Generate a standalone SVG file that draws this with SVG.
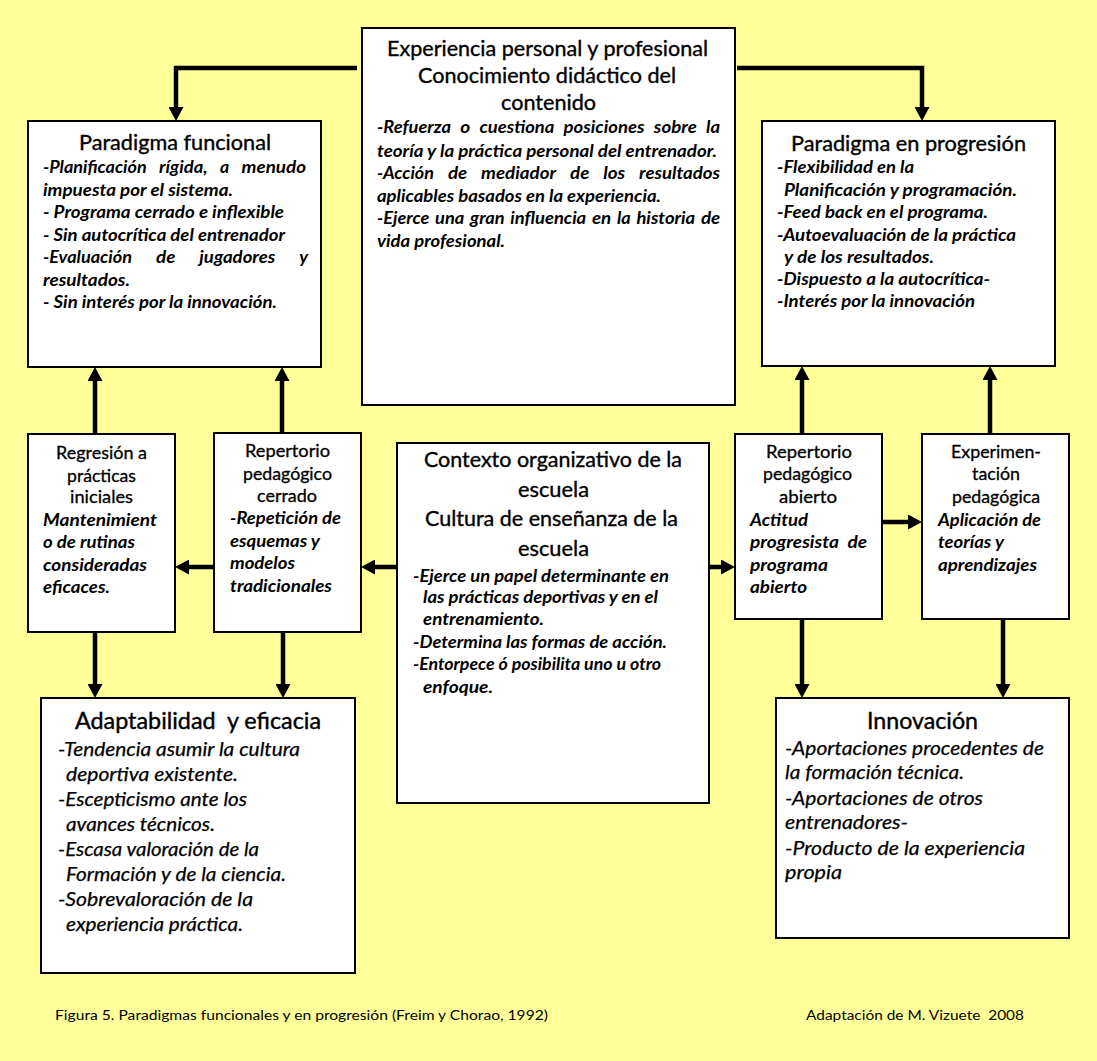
<svg xmlns="http://www.w3.org/2000/svg" width="1097" height="1061" viewBox="0 0 1097 1061">
<style>
.bg{fill:#FFFF99}
.box{fill:#fff;stroke:#000;stroke-width:2}
text{font-family:Lato,"Open Sans","Liberation Sans",sans-serif;fill:#000}
.h{font-size:20.5px;stroke:#000;stroke-width:0.35}
.hs{font-size:17.3px;stroke:#000;stroke-width:0.3}
.hl{font-size:22.5px;stroke:#000;stroke-width:0.4}
.b{font-size:16.5px;font-weight:bold;font-style:italic}
.bl{font-size:19px;font-style:italic;stroke:#000;stroke-width:0.25}
.f{font-size:13.5px}
.cn{fill:none;stroke:#000;stroke-width:4.5;stroke-linejoin:miter}
</style>
<defs>
<marker id="ah" markerUnits="userSpaceOnUse" markerWidth="14" markerHeight="15" viewBox="0 0 14 15" refX="6" refY="7.5" orient="auto" preserveAspectRatio="none">
<path d="M0,0 L14,7.5 L0,15 Z" fill="#000"/>
</marker>
</defs>
<rect class="bg" x="0" y="0" width="1097" height="1061"/>

<g id="connectors">
<path class="cn" d="M357,68 H176 V113" marker-end="url(#ah)"/>
<path class="cn" d="M737,68 H922 V113" marker-end="url(#ah)"/>
<path class="cn" d="M95,433 V375" marker-end="url(#ah)"/>
<path class="cn" d="M282,433 V375" marker-end="url(#ah)"/>
<path class="cn" d="M802,433 V374" marker-end="url(#ah)"/>
<path class="cn" d="M990,433 V374" marker-end="url(#ah)"/>
<path class="cn" d="M214,567 H183" marker-end="url(#ah)"/>
<path class="cn" d="M397,567 H369" marker-end="url(#ah)"/>
<path class="cn" d="M709,567 H727" marker-end="url(#ah)"/>
<path class="cn" d="M882,522 H914" marker-end="url(#ah)"/>
<path class="cn" d="M95,632 V690" marker-end="url(#ah)"/>
<path class="cn" d="M283,632 V690" marker-end="url(#ah)"/>
<path class="cn" d="M802,619 V690" marker-end="url(#ah)"/>
<path class="cn" d="M1003,619 V690" marker-end="url(#ah)"/>
</g>

<g id="experiencia">
<rect class="box" x="362" y="28" width="373" height="377"/>
<text class="h" x="387" y="56" textLength="321" lengthAdjust="spacingAndGlyphs">Experiencia personal y profesional</text>
<text class="h" x="418" y="83" textLength="258" lengthAdjust="spacingAndGlyphs">Conocimiento didáctico del</text>
<text class="h" x="501" y="110" textLength="95" lengthAdjust="spacingAndGlyphs">contenido</text>
<text class="b" x="377" y="133" textLength="74" lengthAdjust="spacingAndGlyphs">-Refuerza</text>
<text class="b" x="460.2" y="133" textLength="10" lengthAdjust="spacingAndGlyphs">o</text>
<text class="b" x="479.4" y="133" textLength="75" lengthAdjust="spacingAndGlyphs">cuestiona</text>
<text class="b" x="563.6" y="133" textLength="81" lengthAdjust="spacingAndGlyphs">posiciones</text>
<text class="b" x="653.8" y="133" textLength="43" lengthAdjust="spacingAndGlyphs">sobre</text>
<text class="b" x="706" y="133" textLength="14" lengthAdjust="spacingAndGlyphs">la</text>
<text class="b" x="377" y="157" textLength="340" lengthAdjust="spacingAndGlyphs">teoría y la práctica personal del entrenador.</text>
<text class="b" x="377" y="179" textLength="57" lengthAdjust="spacingAndGlyphs">-Acción</text>
<text class="b" x="447.9" y="179" textLength="19.3" lengthAdjust="spacingAndGlyphs">de</text>
<text class="b" x="481.1" y="179" textLength="75" lengthAdjust="spacingAndGlyphs">mediador</text>
<text class="b" x="570" y="179" textLength="19.3" lengthAdjust="spacingAndGlyphs">de</text>
<text class="b" x="603.2" y="179" textLength="22" lengthAdjust="spacingAndGlyphs">los</text>
<text class="b" x="639.1" y="179" textLength="81" lengthAdjust="spacingAndGlyphs">resultados</text>
<text class="b" x="377" y="202" textLength="284" lengthAdjust="spacingAndGlyphs">aplicables basados en la experiencia.</text>
<text class="b" x="377" y="224" textLength="52.4" lengthAdjust="spacingAndGlyphs">-Ejerce</text>
<text class="b" x="435.1" y="224" textLength="29.2" lengthAdjust="spacingAndGlyphs">una</text>
<text class="b" x="470" y="224" textLength="34.6" lengthAdjust="spacingAndGlyphs">gran</text>
<text class="b" x="510.3" y="224" textLength="75.9" lengthAdjust="spacingAndGlyphs">influencia</text>
<text class="b" x="591.9" y="224" textLength="19.3" lengthAdjust="spacingAndGlyphs">en</text>
<text class="b" x="616.9" y="224" textLength="13.8" lengthAdjust="spacingAndGlyphs">la</text>
<text class="b" x="636.4" y="224" textLength="58.8" lengthAdjust="spacingAndGlyphs">historia</text>
<text class="b" x="700.9" y="224" textLength="19.3" lengthAdjust="spacingAndGlyphs">de</text>
<text class="b" x="377" y="247" textLength="128" lengthAdjust="spacingAndGlyphs">vida profesional.</text>
</g>

<g id="paradigma-funcional">
<rect class="box" x="28" y="121" width="293" height="246"/>
<text class="h" x="79" y="150" textLength="192" lengthAdjust="spacingAndGlyphs">Paradigma funcional</text>
<text class="b" x="43" y="173" textLength="103.7" lengthAdjust="spacingAndGlyphs">-Planificación</text>
<text class="b" x="159.1" y="173" textLength="48.5" lengthAdjust="spacingAndGlyphs">rígida,</text>
<text class="b" x="220" y="173" textLength="9.2" lengthAdjust="spacingAndGlyphs">a</text>
<text class="b" x="241.6" y="173" textLength="64.4" lengthAdjust="spacingAndGlyphs">menudo</text>
<text class="b" x="43" y="196" textLength="190" lengthAdjust="spacingAndGlyphs">impuesta por el sistema.</text>
<text class="b" x="43" y="218" textLength="241" lengthAdjust="spacingAndGlyphs">- Programa cerrado e inflexible</text>
<text class="b" x="43" y="241" textLength="242" lengthAdjust="spacingAndGlyphs">- Sin autocrítica del entrenador</text>
<text class="b" x="43" y="263" textLength="89" lengthAdjust="spacingAndGlyphs">-Evaluación</text>
<text class="b" x="156" y="263" textLength="19.3" lengthAdjust="spacingAndGlyphs">de</text>
<text class="b" x="199.3" y="263" textLength="76" lengthAdjust="spacingAndGlyphs">jugadores</text>
<text class="b" x="299.3" y="263" textLength="8.8" lengthAdjust="spacingAndGlyphs">y</text>
<text class="b" x="43" y="286" textLength="87" lengthAdjust="spacingAndGlyphs">resultados.</text>
<text class="b" x="43" y="308" textLength="234" lengthAdjust="spacingAndGlyphs">- Sin interés por la innovación.</text>
</g>

<g id="paradigma-progresion">
<rect class="box" x="762" y="121" width="293" height="245"/>
<text class="h" x="791" y="151" textLength="235" lengthAdjust="spacingAndGlyphs">Paradigma en progresión</text>
<text class="b" x="777" y="173" textLength="137" lengthAdjust="spacingAndGlyphs">-Flexibilidad en la</text>
<text class="b" x="784" y="196" textLength="233" lengthAdjust="spacingAndGlyphs">Planificación y programación.</text>
<text class="b" x="777" y="218" textLength="211" lengthAdjust="spacingAndGlyphs">-Feed back en el programa.</text>
<text class="b" x="777" y="241" textLength="239" lengthAdjust="spacingAndGlyphs">-Autoevaluación de la práctica</text>
<text class="b" x="784" y="263" textLength="150" lengthAdjust="spacingAndGlyphs">y de los resultados.</text>
<text class="b" x="777" y="285" textLength="213" lengthAdjust="spacingAndGlyphs">-Dispuesto a la autocrítica-</text>
<text class="b" x="777" y="307" textLength="198" lengthAdjust="spacingAndGlyphs">-Interés por la innovación</text>
</g>

<g id="regresion">
<rect class="box" x="28" y="434" width="147" height="198"/>
<text class="hs" x="56" y="459" textLength="91" lengthAdjust="spacingAndGlyphs">Regresión a</text>
<text class="hs" x="67" y="482" textLength="69" lengthAdjust="spacingAndGlyphs">prácticas</text>
<text class="hs" x="70" y="503" textLength="63" lengthAdjust="spacingAndGlyphs">iniciales</text>
<text class="b" x="43" y="526" textLength="114" lengthAdjust="spacingAndGlyphs">Mantenimient</text>
<text class="b" x="43" y="548" textLength="92" lengthAdjust="spacingAndGlyphs">o de rutinas</text>
<text class="b" x="43" y="571" textLength="104" lengthAdjust="spacingAndGlyphs">consideradas</text>
<text class="b" x="43" y="593" textLength="67" lengthAdjust="spacingAndGlyphs">eficaces.</text>
</g>

<g id="repertorio-cerrado">
<rect class="box" x="214" y="433" width="147" height="199"/>
<text class="hs" x="245" y="457" textLength="85" lengthAdjust="spacingAndGlyphs">Repertorio</text>
<text class="hs" x="243" y="480" textLength="89" lengthAdjust="spacingAndGlyphs">pedagógico</text>
<text class="hs" x="257" y="502" textLength="60" lengthAdjust="spacingAndGlyphs">cerrado</text>
<text class="b" x="230" y="524" textLength="111" lengthAdjust="spacingAndGlyphs">-Repetición de</text>
<text class="b" x="230" y="547" textLength="90" lengthAdjust="spacingAndGlyphs">esquemas y</text>
<text class="b" x="230" y="569" textLength="65" lengthAdjust="spacingAndGlyphs">modelos</text>
<text class="b" x="230" y="592" textLength="102" lengthAdjust="spacingAndGlyphs">tradicionales</text>
</g>

<g id="contexto">
<rect class="box" x="397" y="443" width="312" height="360"/>
<text class="h" x="424" y="467" textLength="258" lengthAdjust="spacingAndGlyphs">Contexto organizativo de la</text>
<text class="h" x="518" y="497" textLength="71" lengthAdjust="spacingAndGlyphs">escuela</text>
<text class="h" x="425" y="526" textLength="253" lengthAdjust="spacingAndGlyphs">Cultura de enseñanza de la</text>
<text class="h" x="518" y="556" textLength="71" lengthAdjust="spacingAndGlyphs">escuela</text>
<text class="b" x="413" y="582" textLength="256" lengthAdjust="spacingAndGlyphs">-Ejerce un papel determinante en</text>
<text class="b" x="423" y="603" textLength="235" lengthAdjust="spacingAndGlyphs">las prácticas deportivas y en el</text>
<text class="b" x="423" y="625" textLength="121" lengthAdjust="spacingAndGlyphs">entrenamiento.</text>
<text class="b" x="413" y="648" textLength="254" lengthAdjust="spacingAndGlyphs">-Determina las formas de acción.</text>
<text class="b" x="413" y="670" textLength="248" lengthAdjust="spacingAndGlyphs">-Entorpece ó posibilita uno u otro</text>
<text class="b" x="423" y="693" textLength="70" lengthAdjust="spacingAndGlyphs">enfoque.</text>
</g>

<g id="repertorio-abierto">
<rect class="box" x="735" y="434" width="147" height="185"/>
<text class="hs" x="766" y="458" textLength="86" lengthAdjust="spacingAndGlyphs">Repertorio</text>
<text class="hs" x="763" y="480" textLength="89" lengthAdjust="spacingAndGlyphs">pedagógico</text>
<text class="hs" x="779" y="503" textLength="58" lengthAdjust="spacingAndGlyphs">abierto</text>
<text class="b" x="750" y="526" textLength="58" lengthAdjust="spacingAndGlyphs">Actitud</text>
<text class="b" x="750" y="548" textLength="117" lengthAdjust="spacingAndGlyphs">progresista&#160; de</text>
<text class="b" x="750" y="571" textLength="78" lengthAdjust="spacingAndGlyphs">programa</text>
<text class="b" x="750" y="593" textLength="57" lengthAdjust="spacingAndGlyphs">abierto</text>
</g>

<g id="experimentacion">
<rect class="box" x="922" y="434" width="147" height="185"/>
<text class="hs" x="951" y="458" textLength="90" lengthAdjust="spacingAndGlyphs">Experimen-</text>
<text class="hs" x="972" y="480" textLength="48" lengthAdjust="spacingAndGlyphs">tación</text>
<text class="hs" x="952" y="503" textLength="88" lengthAdjust="spacingAndGlyphs">pedagógica</text>
<text class="b" x="938" y="526" textLength="103" lengthAdjust="spacingAndGlyphs">Aplicación de</text>
<text class="b" x="938" y="548" textLength="66" lengthAdjust="spacingAndGlyphs">teorías y</text>
<text class="b" x="938" y="571" textLength="99" lengthAdjust="spacingAndGlyphs">aprendizajes</text>
</g>

<g id="adaptabilidad">
<rect class="box" x="41" y="698" width="314" height="275"/>
<text class="hl" x="75" y="729" textLength="246" lengthAdjust="spacingAndGlyphs">Adaptabilidad&#160; y eficacia</text>
<text class="bl" x="58" y="756" textLength="242" lengthAdjust="spacingAndGlyphs">-Tendencia asumir la cultura</text>
<text class="bl" x="66" y="781" textLength="172" lengthAdjust="spacingAndGlyphs">deportiva existente.</text>
<text class="bl" x="58" y="806" textLength="189" lengthAdjust="spacingAndGlyphs">-Escepticismo ante los</text>
<text class="bl" x="66" y="831" textLength="149" lengthAdjust="spacingAndGlyphs">avances técnicos.</text>
<text class="bl" x="58" y="856" textLength="201" lengthAdjust="spacingAndGlyphs">-Escasa valoración de la</text>
<text class="bl" x="66" y="881" textLength="220" lengthAdjust="spacingAndGlyphs">Formación y de la ciencia.</text>
<text class="bl" x="58" y="906" textLength="195" lengthAdjust="spacingAndGlyphs">-Sobrevaloración de la</text>
<text class="bl" x="66" y="931" textLength="177" lengthAdjust="spacingAndGlyphs">experiencia práctica.</text>
</g>

<g id="innovacion">
<rect class="box" x="776" y="698" width="293" height="240"/>
<text class="hl" x="867" y="729" textLength="111" lengthAdjust="spacingAndGlyphs">Innovación</text>
<text class="bl" x="785" y="755" textLength="259" lengthAdjust="spacingAndGlyphs">-Aportaciones procedentes de</text>
<text class="bl" x="785" y="779" textLength="179" lengthAdjust="spacingAndGlyphs">la formación técnica.</text>
<text class="bl" x="785" y="805" textLength="198" lengthAdjust="spacingAndGlyphs">-Aportaciones de otros</text>
<text class="bl" x="785" y="829" textLength="123" lengthAdjust="spacingAndGlyphs">entrenadores-</text>
<text class="bl" x="785" y="855" textLength="240" lengthAdjust="spacingAndGlyphs">-Producto de la experiencia</text>
<text class="bl" x="785" y="879" textLength="57" lengthAdjust="spacingAndGlyphs">propia</text>
</g>

<g id="footer">
<text class="f" x="55" y="1020" textLength="493" lengthAdjust="spacingAndGlyphs">Figura 5. Paradigmas funcionales y en progresión (Freim y Chorao, 1992)</text>
<text class="f" x="806" y="1020" textLength="218" lengthAdjust="spacingAndGlyphs">Adaptación de M. Vizuete&#160; 2008</text>
</g>
</svg>
